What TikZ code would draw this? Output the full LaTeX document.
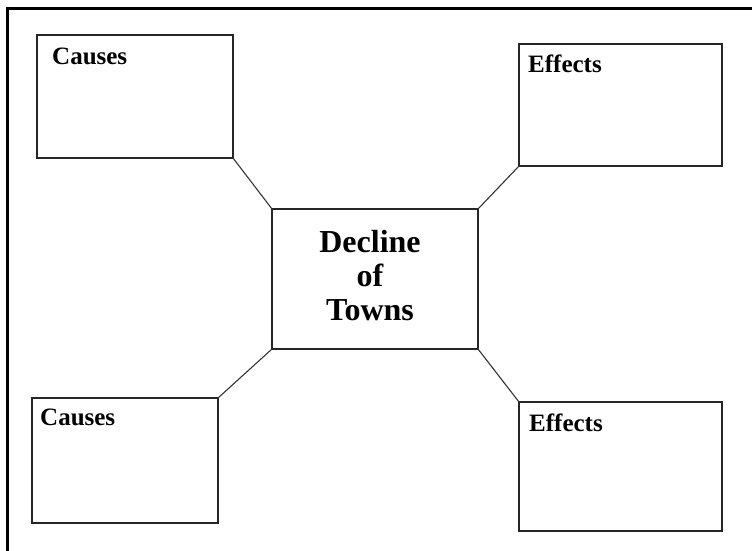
\documentclass[tikz,border=0pt]{standalone}
\usepackage{fontspec}
\setmainfont{Liberation Serif}
\begin{document}
\begin{tikzpicture}[x=1pt,y=-1pt,
  box/.style={draw=black!85, line width=2pt, outer sep=0pt, inner sep=0pt, anchor=north west},
  link/.style={draw=black!80, line width=1.1pt},
  small/.style={anchor=base west, inner sep=0pt, font=\fontsize{25}{30}\selectfont\bfseries},
  big/.style={anchor=center, inner sep=0pt, align=center, font=\fontsize{32}{34}\selectfont\bfseries}]
\useasboundingbox (0,0) rectangle (752,551);
\draw[line width=3.5pt] (7.5,551) -- (7.5,8.5) -- (752,8.5);
% boxes
\node[box, minimum width=196pt, minimum height=123pt] (c1) at (37,35) {};
\node[box, minimum width=203pt, minimum height=122pt] (e1) at (519,44) {};
\node[box, minimum width=206pt, minimum height=140pt] (ctr) at (272,209) {};
\node[box, minimum width=186pt, minimum height=125pt] (c2) at (32,398) {};
\node[box, minimum width=203pt, minimum height=129pt] (e2) at (519,402) {};
% labels
\node[small] (c1t) at (52,65) {Causes};
\node[small] (e1t) at (528,72) {Effects};
\node[small] (c2t) at (40,425) {Causes};
\node[small] (e2t) at (529,431) {Effects};
\node[big] (ctrt) at (370,276) {Decline\\of\\Towns};
% connectors
\draw[link] (c1.south east) -- (ctr.north west);
\draw[link] (e1.south west) -- (ctr.north east);
\draw[link] (ctr.south west) -- (c2.north east);
\draw[link] (ctr.south east) -- (e2.north west);
\end{tikzpicture}
\end{document}
